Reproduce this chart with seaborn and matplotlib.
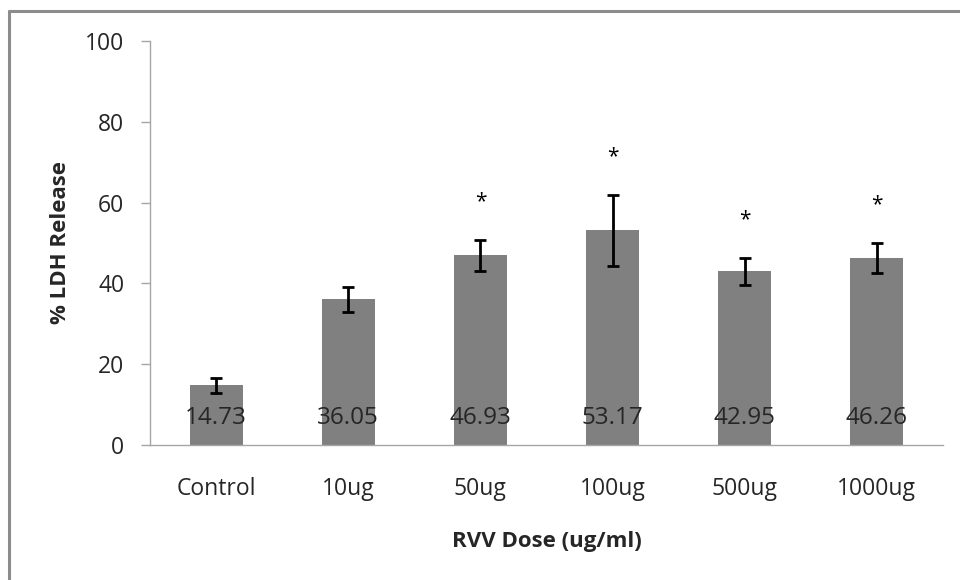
import matplotlib
matplotlib.use("Agg")
import matplotlib.pyplot as plt
import seaborn as sns
import pandas as pd
from matplotlib.lines import Line2D

# ---- data ----
categories = ["Control", "10ug", "50ug", "100ug", "500ug", "1000ug"]
ldh_release = [14.73, 36.05, 46.93, 53.17, 42.95, 46.26]
error = [1.9, 3.1, 3.8, 8.8, 3.3, 3.7]
significant = [False, False, True, True, True, True]
y_ticks = [0, 20, 40, 60, 80, 100]

df = pd.DataFrame({"dose": categories, "ldh": ldh_release})

sns.set_theme(style="white")
plt.rcParams["font.family"] = ["Open Sans", "DejaVu Sans"]

fig = plt.figure(figsize=(9.6, 5.8), dpi=100)
ax = fig.add_axes([150 / 960, 1 - 445 / 580, (943 - 150) / 960, (445 - 41) / 580])

sns.barplot(data=df, x="dose", y="ldh", color="#808080", saturation=1,
            width=0.4, ax=ax, errorbar=None, edgecolor="#808080", linewidth=0)

xs = list(range(len(categories)))
ax.errorbar(xs, ldh_release, yerr=error, fmt="none", ecolor="black",
            elinewidth=2.0, capsize=4.2, capthick=2.0, zorder=5)

for x, v, e, s in zip(xs, ldh_release, error, significant):
    ax.text(x, 6.7, f"{v:.2f}", ha="center", va="center", fontsize=17.5,
            color="#262626", zorder=6)
    if s:
        ax.text(x, v + e + 9.5, "*", ha="center", va="center", fontsize=15,
                color="black")

ax.set_xlim(-0.5, len(categories) - 0.5)
ax.set_ylim(0, 100)
ax.set_yticks(y_ticks)
ax.set_yticklabels([str(t) for t in y_ticks])

for side in ["top", "right"]:
    ax.spines[side].set_visible(False)
for side in ["left", "bottom"]:
    ax.spines[side].set_color("#a6a6a6")
    ax.spines[side].set_linewidth(1.0)

ax.tick_params(axis="y", which="major", left=True, length=6.5, width=1.0,
               color="#a6a6a6", pad=12, labelsize=16.5, labelcolor="#262626")
ax.tick_params(axis="x", which="major", bottom=False, length=0, pad=23,
               labelsize=16.5, labelcolor="#262626")

ax.set_xlabel("RVV Dose (ug/ml)", fontsize=16, fontweight="bold",
              color="#262626", labelpad=22)
ax.set_ylabel("% LDH Release", fontsize=16, fontweight="bold",
              color="#262626", labelpad=10)
ax.grid(False)

# chart-area border (top and left edges visible in the reference)
fig.add_artist(Line2D([9 / 960, 1.0], [1 - 11 / 580, 1 - 11 / 580],
                      transform=fig.transFigure, color="#8c8c8c", linewidth=2.2))
fig.add_artist(Line2D([9 / 960, 9 / 960], [0, 1 - 11 / 580],
                      transform=fig.transFigure, color="#8c8c8c", linewidth=2.2))

fig.savefig("out.png", dpi=100)
